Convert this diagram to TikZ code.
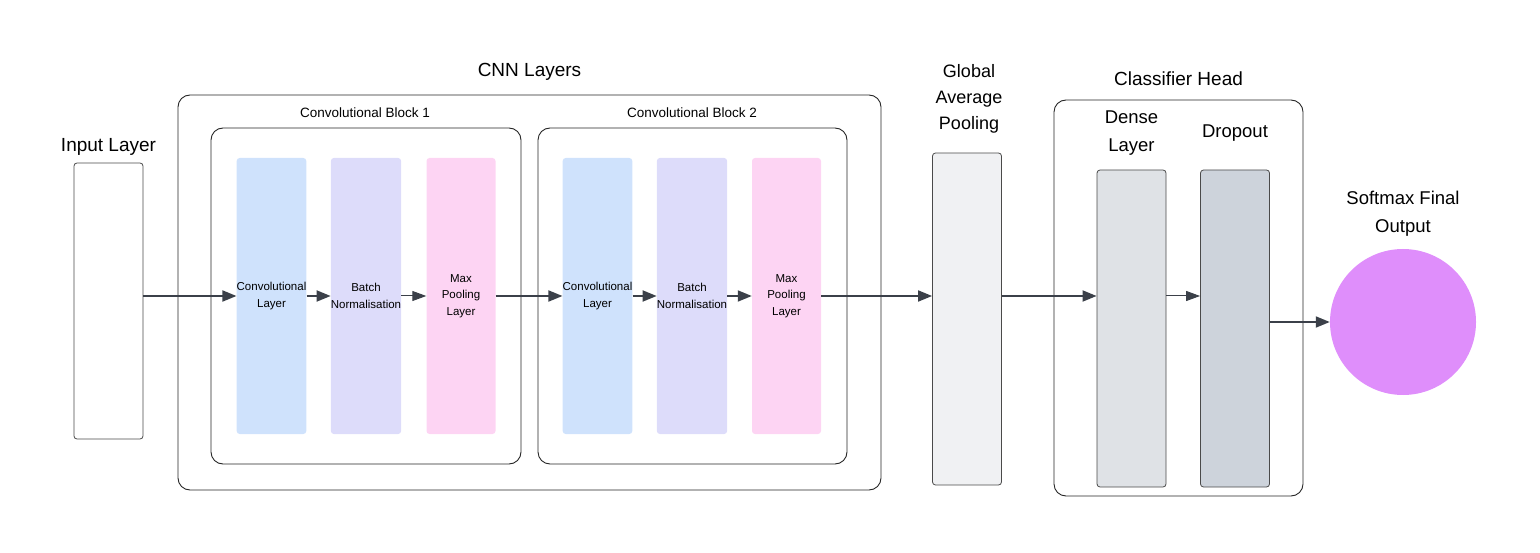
\documentclass[tikz,border=0pt]{standalone}
\usepackage{fontspec}
\setmainfont{Liberation Sans}
\usetikzlibrary{arrows.meta,calc}
\definecolor{convc}{HTML}{CFE2FC}
\definecolor{bnc}{HTML}{DDDCFA}
\definecolor{mpc}{HTML}{FDD4F3}
\definecolor{gapc}{HTML}{F0F1F3}
\definecolor{densec}{HTML}{DFE2E6}
\definecolor{dropc}{HTML}{CDD3DB}
\definecolor{outc}{HTML}{DF8EFB}
\definecolor{arr}{HTML}{3B4049}
\definecolor{edgec}{HTML}{4A4A4A}
\begin{document}
\begin{tikzpicture}[x=1pt,y=-1pt,
  container/.style={draw=black!85,line width=0.9pt,rounded corners=12pt,minimum width=#1},
  layerbox/.style={rounded corners=3pt,minimum width=69pt,minimum height=276pt,font=\fontsize{11.5}{16.5}\selectfont,align=center,inner sep=0pt},
  grbox/.style={draw=edgec,line width=0.8pt,rounded corners=3pt,minimum width=69pt,inner sep=0pt},
  biglabel/.style={font=\fontsize{19}{26}\selectfont,align=center,inner sep=0pt},
  blklabel/.style={font=\fontsize{13.5}{16}\selectfont,inner sep=0pt},
  thick arrow/.style={draw=arr,line width=1.8pt,-{Triangle[length=14pt,width=11pt]}},
  thin arrow/.style={draw=arr,line width=1pt,-{Triangle[length=14pt,width=10pt]}}
]
\useasboundingbox (0,0) rectangle (1540,553);
% containers
\node[container=703pt,minimum height=395pt] (cnn) at (529.5,292.5) {};
\node[container=310pt,minimum height=336pt] (blk1) at (366,296) {};
\node[container=309pt,minimum height=336pt] (blk2) at (692.5,296) {};
\node[container=249pt,minimum height=396pt] (cls) at (1178.5,298) {};
% container labels
\node[biglabel] (cnnlab) at (529.5,72) {CNN Layers};
\node[blklabel] (b1lab) at (365,113) {Convolutional Block 1};
\node[blklabel] (b2lab) at (692,113) {Convolutional Block 2};
\node[biglabel] (clslab) at (1178.5,79) {Classifier Head};
% input
\node[grbox,fill=white,minimum height=276pt] (in) at (108.5,301) {};
\node[biglabel] (inlab) at (108.5,147) {Input Layer};
% block 1
\node[layerbox,fill=convc] (c1) at (271.5,296) {Convolutional\\Layer};
\node[layerbox,fill=bnc] (n1) at (366,296) {Batch\\Normalisation};
\node[layerbox,fill=mpc] (m1) at (461,296) {Max\\Pooling\\Layer};
% block 2
\node[layerbox,fill=convc] (c2) at (597.5,296) {Convolutional\\Layer};
\node[layerbox,fill=bnc] (n2) at (692,296) {Batch\\Normalisation};
\node[layerbox,fill=mpc] (m2) at (786.5,296) {Max\\Pooling\\Layer};
% GAP
\node[grbox,fill=gapc,minimum height=332pt] (gap) at (967,319) {};
\node[biglabel,font=\fontsize{18}{26}\selectfont] (gaplab) at (969,99) {Global\\Average\\Pooling};
% classifier
\node[grbox,fill=densec,minimum height=317pt] (dense) at (1131.5,328.5) {};
\node[biglabel,font=\fontsize{18.5}{28}\selectfont] (denselab) at (1131.5,133) {Dense\\Layer};
\node[grbox,fill=dropc,minimum height=317pt] (drop) at (1235,328.5) {};
\node[biglabel,font=\fontsize{18.5}{28}\selectfont] (droplab) at (1235,133) {Dropout};
% output
\node[circle,fill=outc,minimum size=146pt,inner sep=0pt] (out) at (1403,322) {};
\node[biglabel,font=\fontsize{18.5}{28}\selectfont] (outlab) at (1403,214) {Softmax Final\\Output};
% arrows
\draw[thick arrow] (in.east |- c1.west) -- (c1.west);
\draw[thick arrow] (c1.east) -- (n1.west);
\draw[thin arrow] (n1.east) -- (m1.west);
\draw[thick arrow] (m1.east) -- (c2.west);
\draw[thick arrow] (c2.east) -- (n2.west);
\draw[thick arrow] (n2.east) -- (m2.west);
\draw[thick arrow] (m2.east) -- (gap.west |- m2.east);
\draw[thick arrow] (gap.east |- m2.east) -- (dense.west |- m2.east);
\draw[thin arrow] (dense.east |- m2.east) -- (drop.west |- m2.east);
\draw[thick arrow] (drop.east |- out.west) -- (out.west);
\end{tikzpicture}
\end{document}
